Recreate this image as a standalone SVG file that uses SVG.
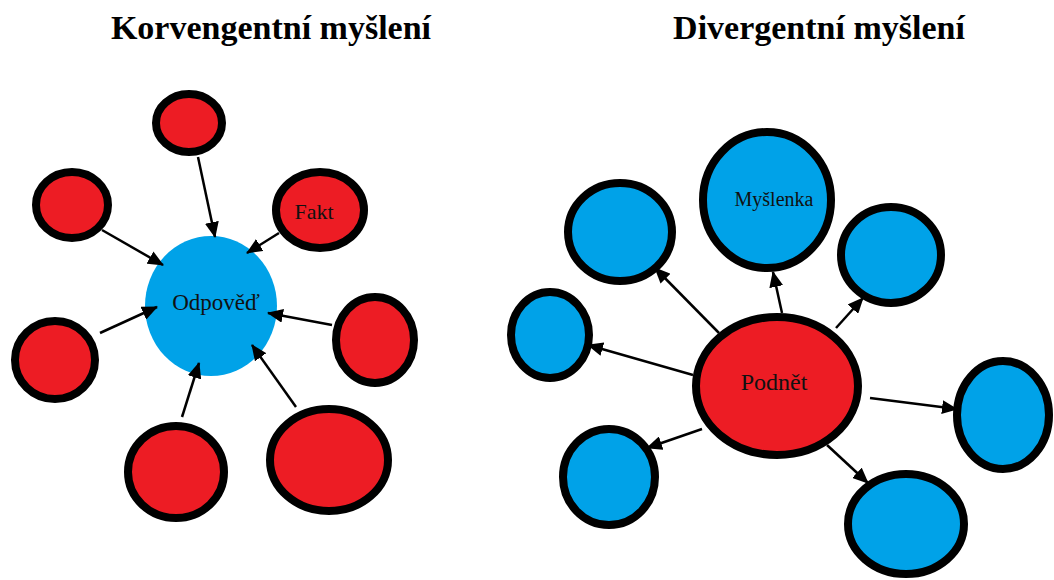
<svg xmlns="http://www.w3.org/2000/svg" width="1054" height="580" viewBox="0 0 1054 580">
<style>
  .red { fill: #ED1C24; stroke: #000; stroke-width: 8; }
  .blue { fill: #00A2E8; stroke: #000; stroke-width: 8; }
  .bluefill { fill: #00A2E8; stroke: none; }
  .title { font-family: "Liberation Serif", "Times New Roman", serif; font-weight: bold; font-size: 34px; fill: #000; text-anchor: middle; }
  .lbl { font-family: "Liberation Serif", "Times New Roman", serif; fill: #111; text-anchor: middle; }
  .conn line { stroke: #000; stroke-width: 2.5; marker-end: url(#ah); }
</style>
<defs>
  <marker id="ah" viewBox="0 0 16 14" refX="15" refY="7" markerWidth="16" markerHeight="14" markerUnits="userSpaceOnUse" orient="auto">
    <path d="M0,0 L16,7 L0,14 z" fill="#000"/>
  </marker>
</defs>
<rect width="1054" height="580" fill="#fff"/>
<text class="title" x="271" y="39">Korvengentní myšlení</text>
<text class="title" x="819" y="39">Divergentní myšlení</text>

<g id="k-odpoved">
  <ellipse class="bluefill" cx="211" cy="306" rx="66" ry="70"/>
  <text class="lbl" x="216" y="310" font-size="23">Odpověď</text>
</g>
<g id="k-top"><ellipse class="red" cx="189" cy="123" rx="33" ry="29"/></g>
<g id="k-leftup"><ellipse class="red" cx="72" cy="205" rx="36" ry="33"/></g>
<g id="k-fakt">
  <ellipse class="red" cx="320" cy="210" rx="44" ry="38"/>
  <text class="lbl" x="314" y="219" font-size="22">Fakt</text>
</g>
<g id="k-leftdown"><ellipse class="red" cx="55" cy="360" rx="40" ry="39"/></g>
<g id="k-right"><ellipse class="red" cx="375" cy="340" rx="39" ry="43"/></g>
<g id="k-bottom"><ellipse class="red" cx="176" cy="472" rx="48" ry="46"/></g>
<g id="k-bottomright"><ellipse class="red" cx="329" cy="460" rx="59" ry="51"/></g>

<g id="d-podnet">
  <ellipse class="red" cx="777" cy="386" rx="81" ry="69"/>
  <text class="lbl" x="774" y="390" font-size="24">Podnět</text>
</g>
<g id="d-myslenka">
  <ellipse class="blue" cx="767" cy="200" rx="64" ry="68"/>
  <text class="lbl" x="774" y="206" font-size="20">Myšlenka</text>
</g>
<g id="d-upleft"><ellipse class="blue" cx="620" cy="232" rx="52" ry="49"/></g>
<g id="d-upright"><ellipse class="blue" cx="891" cy="255" rx="50" ry="48"/></g>
<g id="d-left"><ellipse class="blue" cx="550" cy="335" rx="39" ry="43"/></g>
<g id="d-downleft"><ellipse class="blue" cx="609" cy="477" rx="46" ry="48"/></g>
<g id="d-right"><ellipse class="blue" cx="1003" cy="415" rx="46" ry="54"/></g>
<g id="d-downright"><ellipse class="blue" cx="906" cy="524" rx="58" ry="50"/></g>

<g id="connectors" class="conn">
  <line x1="198" y1="157" x2="215" y2="237"/>
  <line x1="102" y1="230" x2="163" y2="265"/>
  <line x1="279" y1="233" x2="247" y2="253"/>
  <line x1="100" y1="333" x2="157" y2="307"/>
  <line x1="332" y1="325" x2="268" y2="313"/>
  <line x1="182" y1="417" x2="199" y2="363"/>
  <line x1="296" y1="407" x2="252" y2="345"/>

  <line x1="719" y1="333" x2="655" y2="268"/>
  <line x1="782" y1="313" x2="773" y2="272"/>
  <line x1="836" y1="328" x2="863" y2="298"/>
  <line x1="693" y1="375" x2="588" y2="345"/>
  <line x1="702" y1="429" x2="647" y2="448"/>
  <line x1="870" y1="398" x2="957" y2="409"/>
  <line x1="827" y1="445" x2="868" y2="483"/>
</g>
</svg>
